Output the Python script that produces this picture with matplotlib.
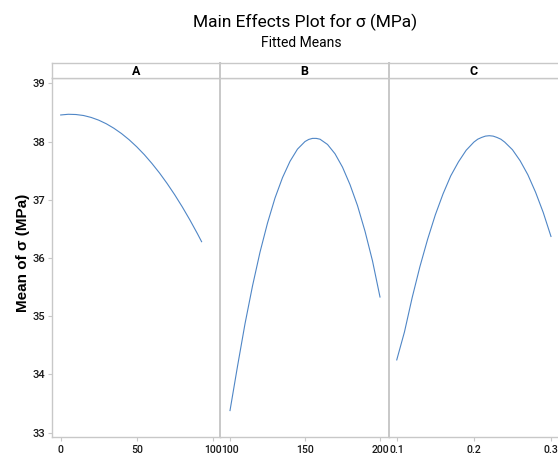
import matplotlib
matplotlib.use("Agg")
import matplotlib.pyplot as plt

# fitted means
a_x = [0, 5, 10, 15, 20, 25, 30, 35, 40, 45, 50, 55, 60, 65, 70, 75, 80, 85, 90, 92.7]
a_y = [38.456, 38.468, 38.464, 38.447, 38.414, 38.367, 38.305, 38.228, 38.137, 38.031,
       37.910, 37.775, 37.624, 37.460, 37.280, 37.086, 36.877, 36.653, 36.415, 36.280]

b_x = [100, 105, 110, 115, 120, 125, 130, 135, 140, 145, 150, 152.5, 155, 157.5, 160,
       165, 170, 175, 180, 185, 190, 195, 200]
b_y = [33.38, 34.14, 34.87, 35.52, 36.10, 36.60, 37.03, 37.38, 37.66, 37.87, 38.00,
       38.036, 38.054, 38.054, 38.04, 37.95, 37.79, 37.56, 37.26, 36.90, 36.46, 35.95, 35.33]

c_x = [0.10, 0.11, 0.12, 0.13, 0.14, 0.15, 0.16, 0.17, 0.18, 0.19, 0.20, 0.205, 0.21,
       0.215, 0.22, 0.225, 0.23, 0.235, 0.24, 0.25, 0.26, 0.27, 0.28, 0.29, 0.30]
c_y = [34.25, 34.73, 35.32, 35.85, 36.32, 36.74, 37.10, 37.41, 37.65, 37.85, 37.99,
       38.04, 38.07, 38.093, 38.10, 38.093, 38.07, 38.04, 37.99, 37.86, 37.67, 37.43,
       37.13, 36.78, 36.37]

factors = ["A", "B", "C"]
xticks = [[0, 50, 100], [100, 150, 200], [0.1, 0.2, 0.3]]
xticklabels = [["0", "50", "100"], ["100", "150", "200"], ["0.1", "0.2", "0.3"]]
yticks = [33, 34, 35, 36, 37, 38, 39]

FONT = ["Roboto", "DejaVu Sans"]
GRID = "#c8c8c8"
LINE = "#4f86c6"

W, H = 558, 457
fig = plt.figure(figsize=(W / 100, H / 100), dpi=100)

edges = [52, 220, 389, 559]
xlims = [(-5.72, 104.8), (93.33, 206.0), (0.08995, 0.3104)]
bot = 1 - 437 / H
top = 1 - 78 / H
htop = 1 - 63 / H

data = [(a_x, a_y), (b_x, b_y), (c_x, c_y)]
for i in range(3):
    x0 = edges[i] / W
    w = (edges[i + 1] - edges[i]) / W
    ax = fig.add_axes([x0, bot, w, top - bot])
    ax.plot(data[i][0], data[i][1], color=LINE, lw=0.8)
    ax.set_xlim(*xlims[i])
    ax.set_ylim(32.926, 39.091)
    ax.set_xticks(xticks[i])
    ax.set_xticklabels(xticklabels[i], family=FONT, fontsize=7.6, fontweight="medium")
    ax.tick_params(axis="x", length=3, color=GRID, pad=3, labelcolor="#1a1a1a")
    if i == 0:
        ax.set_yticks(yticks)
        ax.set_yticklabels([str(v) for v in yticks], family=FONT, fontsize=8,
                           fontweight="medium")
        ax.tick_params(axis="y", length=3, color=GRID, pad=2, labelcolor="#1a1a1a")
    else:
        ax.set_yticks([])
    for s in ax.spines.values():
        s.set_color(GRID)
        s.set_linewidth(1.0)
    ax.spines["left"].set_linewidth(1.4 if i > 0 else 1.0)
    if i == 2:
        ax.spines["right"].set_visible(False)

    hax = fig.add_axes([x0, top, w, htop - top])
    hax.set_xticks([])
    hax.set_yticks([])
    for s in hax.spines.values():
        s.set_color(GRID)
        s.set_linewidth(1.0)
    hax.spines["left"].set_linewidth(1.4 if i > 0 else 1.0)
    if i == 2:
        hax.spines["right"].set_visible(False)
    hax.text(0.5, 0.45, factors[i], ha="center", va="center", family=FONT,
             fontsize=9, fontweight="bold", transform=hax.transAxes)

fig.text(305 / W, 1 - 22 / H, "Main Effects Plot for σ (MPa)", ha="center", va="center",
         family=FONT, fontsize=12.5)
fig.text(301 / W, 1 - 43 / H, "Fitted Means", ha="center", va="center",
         family=FONT, fontsize=10)
fig.text(23 / W, 1 - 253 / H, "Mean of σ (MPa)", rotation=90, ha="center", va="center",
         family=["Liberation Sans", "DejaVu Sans"], fontweight="bold", fontsize=11)

fig.savefig("out.png", dpi=100)
